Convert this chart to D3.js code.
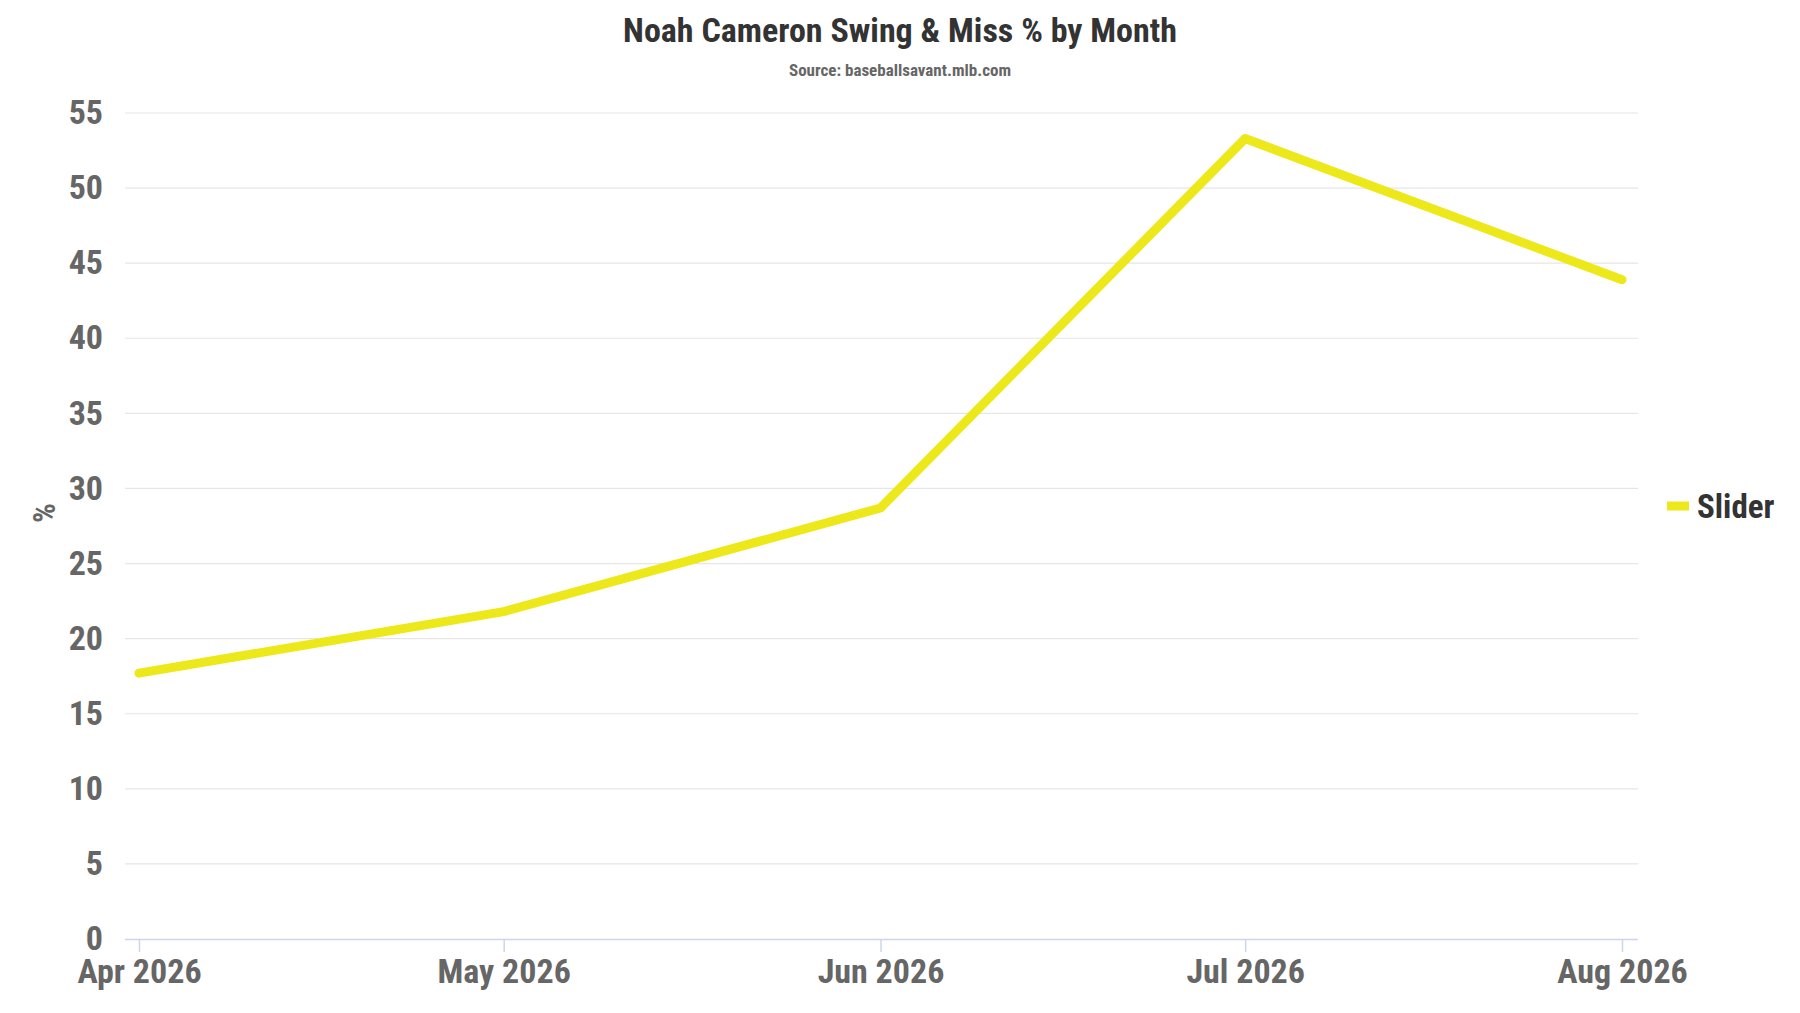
<!DOCTYPE html>
<html>
<head>
<meta charset="utf-8">
<script src="https://cdn.jsdelivr.net/npm/d3@7"></script>
<style>
  body { margin: 0; background: #fff; }
  text { font-family: "Roboto Condensed", "Liberation Sans Narrow", "DejaVu Sans Condensed", sans-serif; font-weight: bold; }
</style>
</head>
<body>
<div id="wrapper"></div>
<script>
const months = ["2026-04-01", "2026-05-01", "2026-06-01", "2026-07-01", "2026-08-01"];
const sliderPct = [17.7, 21.8, 28.7, 53.3, 43.9];
const yTicks = [0, 5, 10, 15, 20, 25, 30, 35, 40, 45, 50, 55];
const seriesName = "Slider";

const width = 1800, height = 1013;
const margin = { top: 113, right: 162, bottom: 74, left: 125 };
const parse = d3.timeParse("%Y-%m-%d");
const data = months.map((m, i) => ({ date: parse(m), value: sliderPct[i] }));

const svg = d3.select("#wrapper").append("svg")
  .attr("width", width)
  .attr("height", height);

const x = d3.scaleTime()
  .domain(d3.extent(data, d => d.date))
  .range([139, 1622]);

const y = d3.scaleLinear()
  .domain([0, 55])
  .range([height - margin.bottom, margin.top]);

// grid
svg.append("g")
  .selectAll("line")
  .data(yTicks.filter(t => t > 0))
  .enter()
  .append("line")
  .attr("x1", margin.left)
  .attr("x2", width - margin.right)
  .attr("y1", d => y(d))
  .attr("y2", d => y(d))
  .attr("stroke", "#e6e6e6")
  .attr("stroke-width", 1.2);

// y labels
svg.append("g")
  .selectAll("text")
  .data(yTicks)
  .enter()
  .append("text")
  .attr("x", 103)
  .attr("y", d => y(d))
  .attr("dy", "0.33em")
  .attr("text-anchor", "end")
  .attr("fill", "#666")
  .style("font-size", "34px")
  .text(d => d);

// x axis
const xAxis = svg.append("g")
  .attr("transform", `translate(0,${y(0)})`)
  .call(d3.axisBottom(x)
    .tickValues(data.map(d => d.date))
    .tickFormat(d3.timeFormat("%b %Y"))
    .tickSize(13)
    .tickSizeOuter(0)
    .tickPadding(7));
xAxis.select(".domain")
  .attr("d", `M${margin.left},0.5H${width - margin.right}`)
  .attr("stroke", "#ccd6eb")
  .attr("stroke-width", 1.5);
xAxis.selectAll(".tick line").attr("stroke", "#ccd6eb").attr("stroke-width", 1.5);
xAxis.selectAll(".tick text")
  .attr("fill", "#666")
  .style("font-size", "34px")
  .style("font-family", "\"Roboto Condensed\", \"Liberation Sans Narrow\", sans-serif")
  .style("font-weight", "bold");

// line
svg.append("path")
  .datum(data)
  .attr("fill", "none")
  .attr("stroke", "#ece81a")
  .attr("stroke-width", 9)
  .attr("stroke-linecap", "round")
  .attr("stroke-linejoin", "round")
  .attr("d", d3.line().x(d => x(d.date)).y(d => y(d.value)));

// titles
svg.append("text")
  .attr("x", width / 2)
  .attr("y", 42)
  .attr("text-anchor", "middle")
  .attr("fill", "#333")
  .style("font-size", "34px")
  .text("Noah Cameron Swing & Miss % by Month");

svg.append("text")
  .attr("x", width / 2)
  .attr("y", 76)
  .attr("text-anchor", "middle")
  .attr("fill", "#666")
  .style("font-size", "17px")
  .text("Source: baseballsavant.mlb.com");

svg.append("text")
  .attr("transform", "translate(55,513) rotate(-90)")
  .attr("text-anchor", "middle")
  .attr("fill", "#666")
  .style("font-size", "31px")
  .text("%");

// legend
const legend = svg.append("g").attr("transform", "translate(1667,506)");
legend.append("line")
  .attr("x1", 0).attr("x2", 22)
  .attr("stroke", "#ece81a")
  .attr("stroke-width", 9);
legend.append("text")
  .attr("x", 30)
  .attr("dy", "0.35em")
  .attr("fill", "#333")
  .style("font-size", "33px")
  .text(seriesName);
</script>
</body>
</html>
